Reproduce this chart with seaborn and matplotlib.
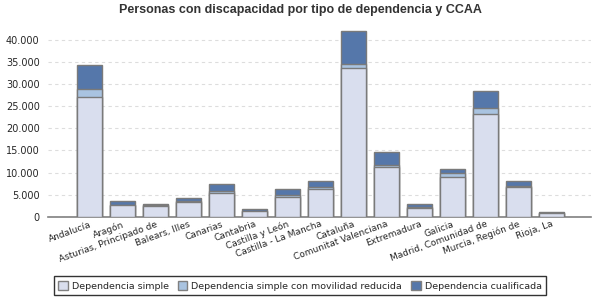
import pandas as pd
import numpy as np
import matplotlib
matplotlib.use("Agg")
import matplotlib.pyplot as plt
import seaborn as sns
from matplotlib.patches import Patch
from matplotlib.ticker import FuncFormatter

# ---- data ----
ccaa = ["Andalucía", "Aragón", "Asturias, Principado de", "Balears, Illes",
        "Canarias", "Cantabria", "Castilla y León", "Castilla - La Mancha",
        "Cataluña", "Comunitat Valenciana", "Extremadura", "Galicia",
        "Madrid, Comunidad de", "Murcia, Región de", "Rioja, La"]
simple = [27000, 2600, 2550, 3250, 5300, 1250, 4400, 6400,
          33700, 11150, 2100, 8900, 23100, 6650, 900]
simple_reducida = [1800, 100, 100, 300, 450, 100, 450, 350,
                   800, 600, 100, 900, 1500, 250, 50]
cualificada = [5400, 850, 150, 650, 1650, 400, 1350, 1250,
               7500, 3000, 600, 1100, 3900, 1100, 100]
series = ["Dependencia simple", "Dependencia simple con movilidad reducida",
          "Dependencia cualificada"]
colors = ["#d9deee", "#a9c3e0", "#5577aa"]

df = pd.DataFrame({"ccaa": ccaa, "simple": simple,
                   "reducida": simple_reducida, "cualificada": cualificada})
df["lvl1"] = df["simple"]
df["lvl2"] = df["lvl1"] + df["reducida"]
df["lvl3"] = df["lvl2"] + df["cualificada"]

sns.set_style("white")
plt.rcParams["font.family"] = ["DejaVu Sans"]

fig = plt.figure(figsize=(6, 3), dpi=100)
ax = fig.add_axes([0.08, 0.277, 0.905, 0.628])

# stacked bars: draw tallest layer first, then cover with lower ones
for col, c in zip(["lvl3", "lvl2", "lvl1"], colors[::-1]):
    sns.barplot(data=df, x="ccaa", y=col, color=c, width=0.77,
                edgecolor="#7a7a7a", linewidth=1, saturation=1, ax=ax,
                zorder=3)

ax.set_ylim(0, 42500)
ax.set_xlim(-1.26, 15.2)
ax.set_yticks(range(0, 40001, 5000))
ax.yaxis.set_major_formatter(FuncFormatter(lambda v, p: f"{int(v):,}".replace(",", ".")))
ax.grid(axis="y", color="#dddddd", linestyle=(0, (3, 3)), linewidth=0.8, zorder=0)
ax.set_xlabel("")
ax.set_ylabel("")
for s in ["top", "right", "left"]:
    ax.spines[s].set_visible(False)
ax.spines["bottom"].set_color("#808080")
ax.spines["bottom"].set_linewidth(1.2)
ax.tick_params(axis="y", length=4, color="#999999", labelsize=7, pad=2)
ax.tick_params(axis="x", length=0, labelsize=6.5, pad=2)
ax.set_xticks(range(len(ccaa)))
ax.set_xticklabels(ccaa, rotation=20, ha="right", rotation_mode="anchor")

fig.suptitle("Personas con discapacidad por tipo de dependencia y CCAA",
             fontsize=9, fontweight="bold", y=0.985, color="#333333",
             family=["Liberation Sans Narrow", "Liberation Sans", "DejaVu Sans"])

handles = [Patch(facecolor=c, edgecolor="#808080", label=l)
           for c, l in zip(colors, series)]
leg = fig.legend(handles=handles, loc="lower center", ncol=3,
                 bbox_to_anchor=(0.5, 0.0), fontsize=6.8, frameon=True,
                 fancybox=False, handlelength=1, handleheight=1,
                 handletextpad=0.4, columnspacing=1.0, borderpad=0.5)
leg.get_frame().set_edgecolor("black")
leg.get_frame().set_linewidth(1)

fig.savefig("out.png", dpi=100)
